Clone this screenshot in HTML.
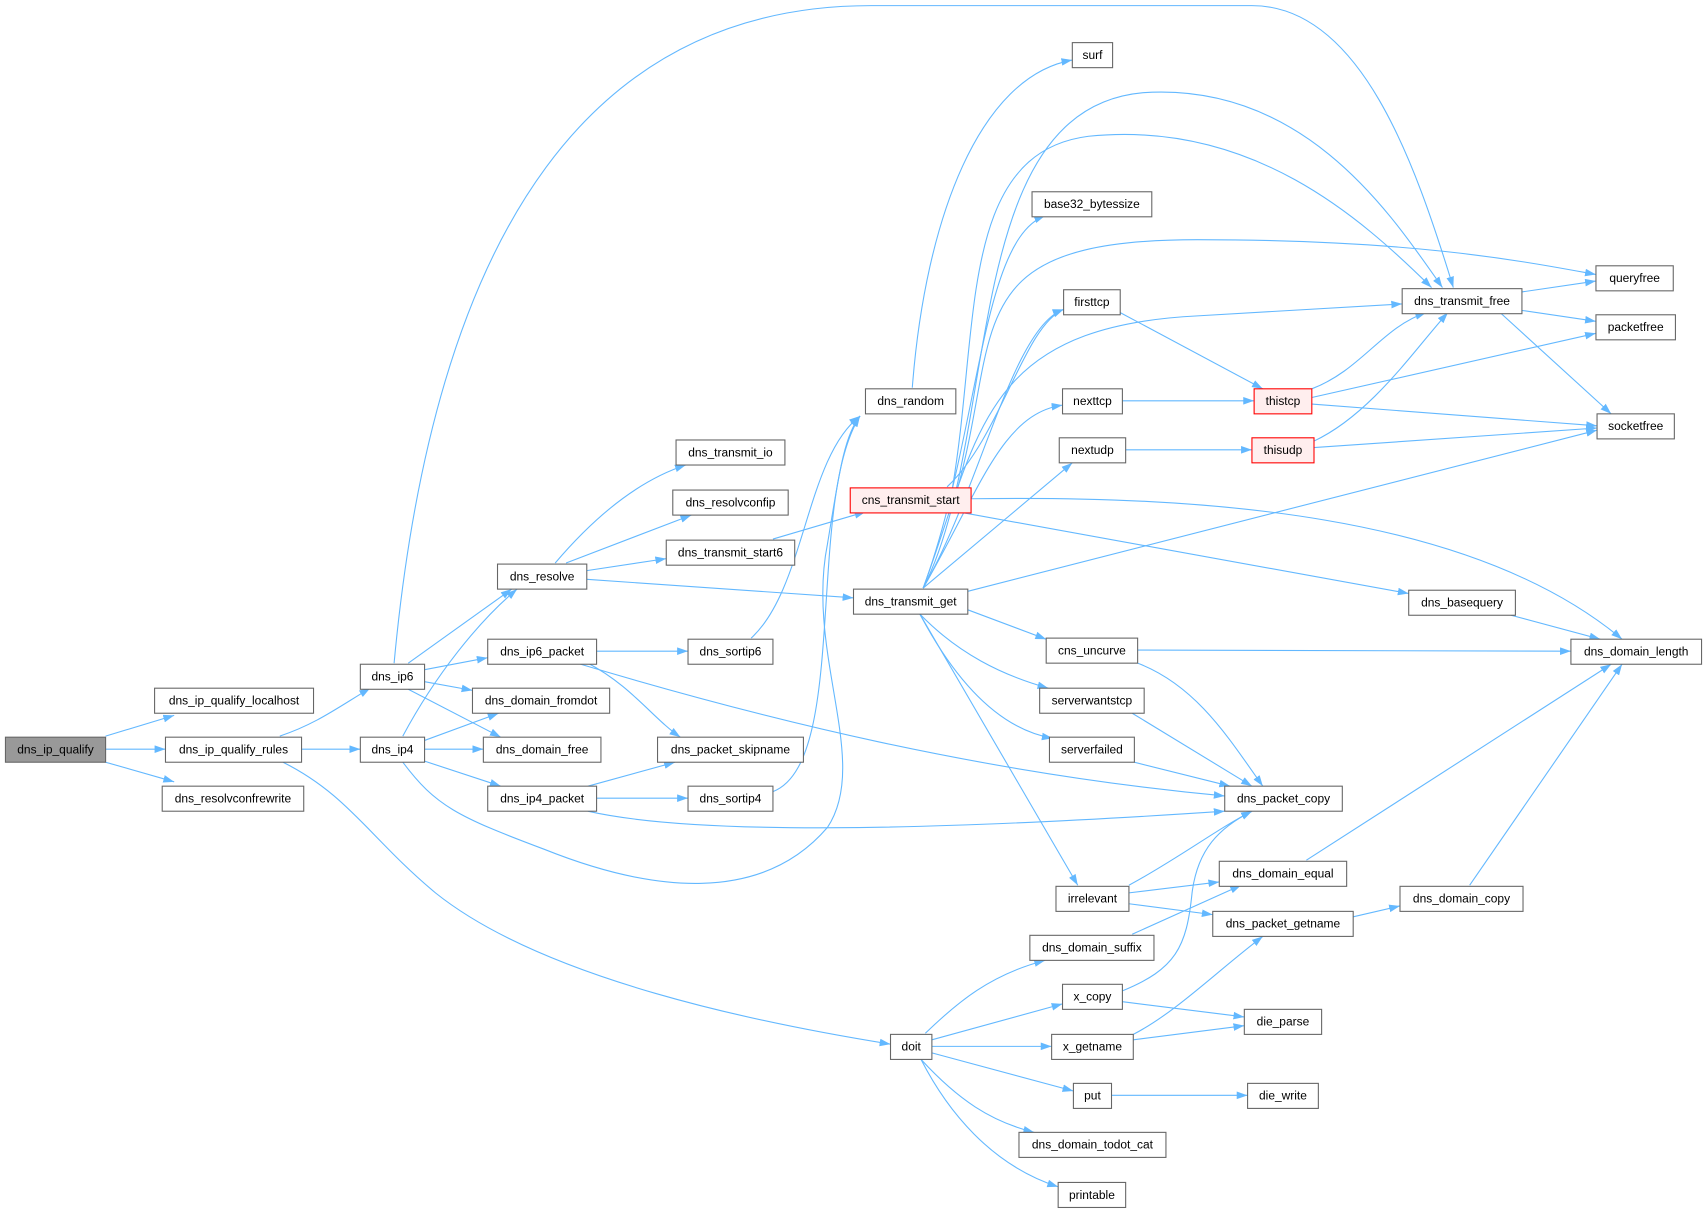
<!DOCTYPE html>
<html><head><meta charset="utf-8"><style>
html,body{margin:0;padding:0;background:#fff;}
svg{display:block;}
text{font-family:"Liberation Sans",Arial,sans-serif;font-size:11px;fill:#000;}
.e{fill:none;stroke:#63b8ff;stroke-width:1;marker-end:url(#a);}
.n{fill:#fff;stroke:#666;stroke-width:1;}
.r{fill:#fee;stroke:#f00;stroke-width:1;}
</style></head><body>
<svg width="1707" height="1212" viewBox="0 0 1568 1113" xmlns="http://www.w3.org/2000/svg">
<defs><marker id="a" markerUnits="userSpaceOnUse" markerWidth="11" markerHeight="8" refX="10" refY="3.5" orient="auto"><path d="M0,0 L10,3.5 L0,7 z" fill="#63b8ff"/></marker></defs>
<g>
<path class="e" d="M97,676 L160,657"/>
<path class="e" d="M97,688 L152,688"/>
<path class="e" d="M97,700 L160,718"/>
<path class="e" d="M257,676 C290,665 310,650 340,632"/>
<path class="e" d="M277,688 L331,688"/>
<path class="e" d="M260,700 C320,730 340,770 400,820 C500,900 700,940 818,959"/>
<path class="e" d="M362,609 C400,200 550,5 800,5 L1150,5 C1250,5 1300,150 1335,264"/>
<path class="e" d="M375,609 L470,541"/>
<path class="e" d="M390,615 L448,604"/>
<path class="e" d="M390,626 L434,634"/>
<path class="e" d="M375,633 L460,677"/>
<path class="e" d="M530,609 C700,660 900,710 1125,731"/>
<path class="e" d="M370,676 C400,620 440,570 475,541"/>
<path class="e" d="M390,680 L458,655"/>
<path class="e" d="M390,688 L444,688"/>
<path class="e" d="M390,699 L460,722"/>
<path class="e" d="M370,700 C400,740 420,750 500,780 C600,820 700,830 760,760 C800,700 740,600 760,500 C770,440 775,400 790,382"/>
<path class="e" d="M510,517 C550,470 590,440 630,427"/>
<path class="e" d="M520,517 L635,473"/>
<path class="e" d="M539,524 L612,513"/>
<path class="e" d="M539,532 L784,549"/>
<path class="e" d="M548,598 L632,598"/>
<path class="e" d="M540,609 C580,630 600,660 625,677"/>
<path class="e" d="M540,722 L620,700"/>
<path class="e" d="M548,733 L632,733"/>
<path class="e" d="M540,745 C650,770 900,760 1125,745"/>
<path class="e" d="M690,586 C740,540 740,420 790,382"/>
<path class="e" d="M710,727 C780,700 740,460 790,382"/>
<path class="e" d="M710,495 L795,470"/>
<path class="e" d="M838,356 C850,200 900,70 985,55"/>
<path class="e" d="M870,447 C920,400 940,300 977,284"/>
<path class="e" d="M875,447 C900,300 880,140 1000,125 C1150,110 1250,200 1315,264"/>
<path class="e" d="M880,447 C920,300 880,220 1100,220 C1300,220 1400,240 1466,252"/>
<path class="e" d="M880,470 L1294,545"/>
<path class="e" d="M892,458 C1100,455 1350,470 1490,587"/>
<path class="e" d="M848,540 C920,400 880,100 1050,85 C1200,75 1280,200 1325,264"/>
<path class="e" d="M848,540 C900,400 900,220 960,198"/>
<path class="e" d="M848,540 C900,450 930,300 977,284"/>
<path class="e" d="M848,540 C900,400 900,300 1100,290 L1288,279"/>
<path class="e" d="M848,540 C900,450 920,380 976,372"/>
<path class="e" d="M848,540 L985,425"/>
<path class="e" d="M889,543 L1467,395"/>
<path class="e" d="M889,560 L961,587"/>
<path class="e" d="M845,564 C880,600 920,620 963,632"/>
<path class="e" d="M845,564 C880,630 920,670 967,678"/>
<path class="e" d="M845,564 L990,813"/>
<path class="e" d="M1029,287 L1160,357"/>
<path class="e" d="M1031,368 L1152,368"/>
<path class="e" d="M1034,413 L1150,413"/>
<path class="e" d="M1205,357 C1250,340 1270,300 1310,287"/>
<path class="e" d="M1205,365 L1466,306"/>
<path class="e" d="M1205,371 L1467,391"/>
<path class="e" d="M1207,405 C1260,380 1300,320 1330,287"/>
<path class="e" d="M1207,411 L1467,393"/>
<path class="e" d="M1398,268 L1466,258"/>
<path class="e" d="M1398,285 L1466,295"/>
<path class="e" d="M1378,287 L1480,380"/>
<path class="e" d="M1388,565 L1470,587"/>
<path class="e" d="M1045,597 L1443,598"/>
<path class="e" d="M1045,609 C1100,630 1130,680 1160,722"/>
<path class="e" d="M1040,655 L1150,722"/>
<path class="e" d="M1042,700 L1130,722"/>
<path class="e" d="M1037,813 C1080,790 1120,760 1150,745"/>
<path class="e" d="M1037,820 L1120,810"/>
<path class="e" d="M1037,830 L1114,840"/>
<path class="e" d="M1200,790 L1480,610"/>
<path class="e" d="M1040,858 L1140,813"/>
<path class="e" d="M1031,910 C1080,890 1090,870 1095,820 C1100,780 1120,760 1150,745"/>
<path class="e" d="M1031,920 L1143,934"/>
<path class="e" d="M1041,955 L1143,942"/>
<path class="e" d="M1041,950 C1080,930 1120,890 1160,860"/>
<path class="e" d="M1243,842 L1286,832"/>
<path class="e" d="M1350,813 L1490,610"/>
<path class="e" d="M1021,1006 L1146,1006"/>
<path class="e" d="M850,949 C880,920 910,895 960,882"/>
<path class="e" d="M856,955 L976,922"/>
<path class="e" d="M856,961 L966,961"/>
<path class="e" d="M856,967 L986,1002"/>
<path class="e" d="M846,973 C880,1010 910,1030 950,1040"/>
<path class="e" d="M846,973 C870,1020 910,1070 972,1090"/>
</g>
<g text-anchor="middle">
<rect x="5" y="677" width="92" height="23" fill="#999" stroke="#666"/><text x="51" y="692">dns_ip_qualify</text>
<rect class="n" x="142" y="632" width="146" height="23"/><text x="215" y="647">dns_ip_qualify_localhost</text>
<rect class="n" x="152" y="677" width="125" height="23"/><text x="214.5" y="692">dns_ip_qualify_rules</text>
<rect class="n" x="149" y="722" width="130" height="23"/><text x="214" y="737">dns_resolvconfrewrite</text>
<rect class="n" x="331" y="610" width="59" height="23"/><text x="360.5" y="625">dns_ip6</text>
<rect class="n" x="331" y="677" width="59" height="23"/><text x="360.5" y="692">dns_ip4</text>
<rect class="n" x="457" y="518" width="82" height="23"/><text x="498" y="533">dns_resolve</text>
<rect class="n" x="448" y="587" width="100" height="23"/><text x="498" y="602">dns_ip6_packet</text>
<rect class="n" x="434" y="632" width="126" height="23"/><text x="497" y="647">dns_domain_fromdot</text>
<rect class="n" x="444" y="677" width="108" height="23"/><text x="498" y="692">dns_domain_free</text>
<rect class="n" x="448" y="722" width="100" height="23"/><text x="498" y="737">dns_ip4_packet</text>
<rect class="n" x="621" y="404" width="100" height="23"/><text x="671" y="419">dns_transmit_io</text>
<rect class="n" x="618" y="450" width="106" height="23"/><text x="671" y="465">dns_resolvconfip</text>
<rect class="n" x="612" y="496" width="118" height="23"/><text x="671" y="511">dns_transmit_start6</text>
<rect class="n" x="632" y="587" width="78" height="23"/><text x="671" y="602">dns_sortip6</text>
<rect class="n" x="604" y="677" width="134" height="23"/><text x="671" y="692">dns_packet_skipname</text>
<rect class="n" x="632" y="722" width="78" height="23"/><text x="671" y="737">dns_sortip4</text>
<rect class="n" x="795" y="357" width="83" height="23"/><text x="836.5" y="372">dns_random</text>
<rect class="r" x="781" y="448" width="111" height="23"/><text x="836.5" y="463">cns_transmit_start</text>
<rect class="n" x="784" y="541" width="105" height="23"/><text x="836.5" y="556">dns_transmit_get</text>
<rect class="n" x="818" y="950" width="38" height="23"/><text x="837" y="965">doit</text>
<rect class="n" x="985" y="39" width="37" height="23"/><text x="1003.5" y="54">surf</text>
<rect class="n" x="948" y="176" width="110" height="23"/><text x="1003" y="191">base32_bytessize</text>
<rect class="n" x="977" y="266" width="52" height="23"/><text x="1003" y="281">firsttcp</text>
<rect class="n" x="976" y="357" width="55" height="23"/><text x="1003.5" y="372">nexttcp</text>
<rect class="n" x="973" y="402" width="61" height="23"/><text x="1003.5" y="417">nextudp</text>
<rect class="n" x="961" y="586" width="84" height="23"/><text x="1003" y="601">cns_uncurve</text>
<rect class="n" x="955" y="632" width="96" height="23"/><text x="1003" y="647">serverwantstcp</text>
<rect class="n" x="964" y="677" width="78" height="23"/><text x="1003" y="692">serverfailed</text>
<rect class="n" x="970" y="814" width="67" height="23"/><text x="1003.5" y="829">irrelevant</text>
<rect class="n" x="946" y="859" width="114" height="23"/><text x="1003" y="874">dns_domain_suffix</text>
<rect class="n" x="976" y="904" width="55" height="23"/><text x="1003.5" y="919">x_copy</text>
<rect class="n" x="966" y="950" width="75" height="23"/><text x="1003.5" y="965">x_getname</text>
<rect class="n" x="986" y="995" width="35" height="23"/><text x="1003.5" y="1010">put</text>
<rect class="n" x="936" y="1040" width="135" height="23"/><text x="1003.5" y="1055">dns_domain_todot_cat</text>
<rect class="n" x="972" y="1086" width="62" height="23"/><text x="1003" y="1101">printable</text>
<rect class="r" x="1152" y="357" width="53" height="23"/><text x="1178.5" y="372">thistcp</text>
<rect class="r" x="1150" y="402" width="57" height="23"/><text x="1178.5" y="417">thisudp</text>
<rect class="n" x="1288" y="265" width="110" height="23"/><text x="1343" y="280">dns_transmit_free</text>
<rect class="n" x="1294" y="542" width="98" height="23"/><text x="1343" y="557">dns_basequery</text>
<rect class="n" x="1125" y="722" width="108" height="23"/><text x="1179" y="737">dns_packet_copy</text>
<rect class="n" x="1120" y="791" width="117" height="23"/><text x="1178.5" y="806">dns_domain_equal</text>
<rect class="n" x="1114" y="837" width="129" height="23"/><text x="1178.5" y="852">dns_packet_getname</text>
<rect class="n" x="1143" y="927" width="71" height="23"/><text x="1178.5" y="942">die_parse</text>
<rect class="n" x="1146" y="995" width="65" height="23"/><text x="1178.5" y="1010">die_write</text>
<rect class="n" x="1286" y="814" width="113" height="23"/><text x="1342.5" y="829">dns_domain_copy</text>
<rect class="n" x="1466" y="244" width="71" height="23"/><text x="1501.5" y="259">queryfree</text>
<rect class="n" x="1466" y="289" width="73" height="23"/><text x="1502.5" y="304">packetfree</text>
<rect class="n" x="1467" y="380" width="71" height="23"/><text x="1502.5" y="395">socketfree</text>
<rect class="n" x="1443" y="587" width="120" height="23"/><text x="1503" y="602">dns_domain_length</text>
</g>
</svg>
</body></html>
